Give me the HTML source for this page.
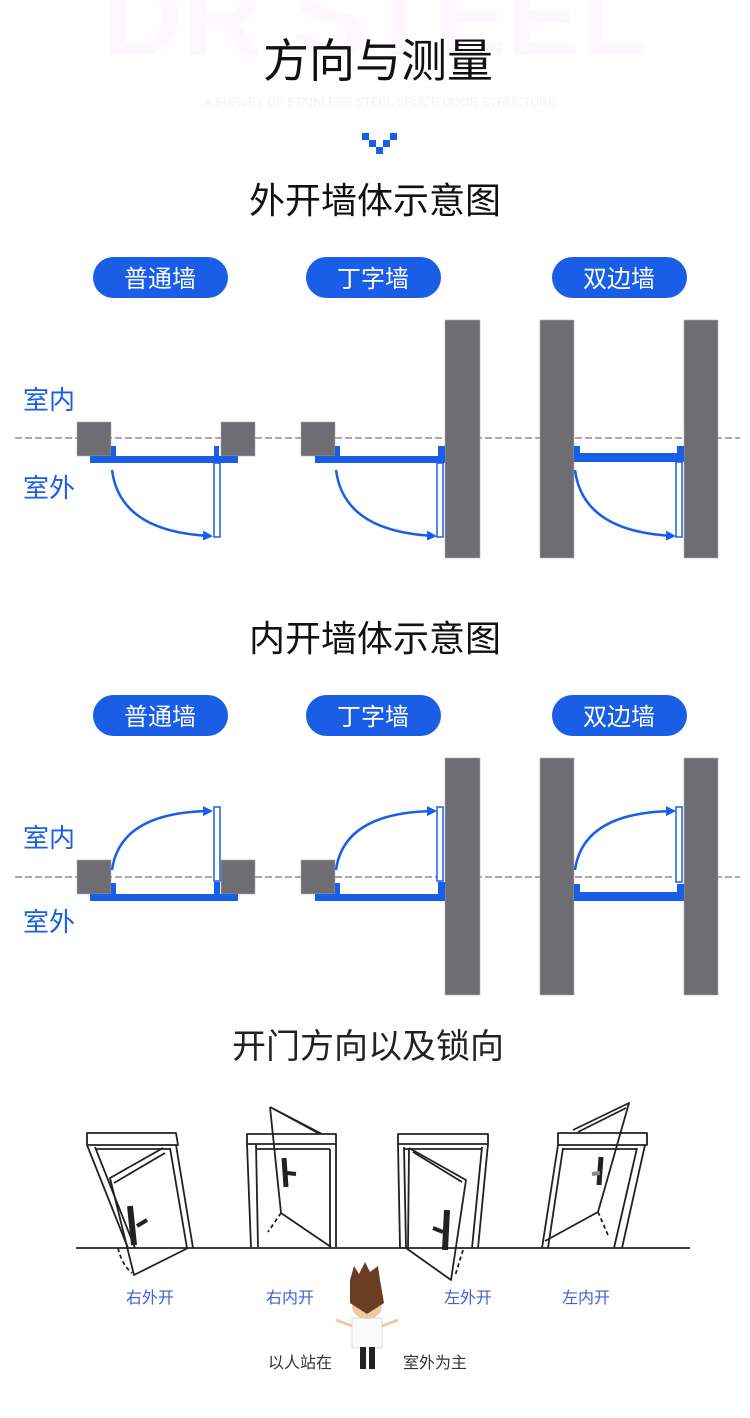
<!DOCTYPE html>
<html><head><meta charset="utf-8"><style>
html,body{margin:0;padding:0;background:#fff;}
svg{display:block}
text{font-family:"Liberation Sans","Noto Sans CJK SC",sans-serif;}
</style></head><body>
<svg width="750" height="1418" viewBox="0 0 750 1418" xmlns="http://www.w3.org/2000/svg">
<defs>
<marker id="ar" markerWidth="10" markerHeight="10" refX="8" refY="5" orient="auto" markerUnits="userSpaceOnUse"><path d="M0,0 L10,5 L0,10 Z" fill="#1a5ee8"/></marker>
</defs>
<rect width="750" height="1418" fill="#fff"/>
<text x="375" y="55" font-size="110" fill="#fcf8fd" text-anchor="middle" font-family="Liberation Serif" font-weight="bold">DR STEEL</text>
<text x="380" y="106" font-size="12" fill="#f2f2f2" text-anchor="middle" font-family="Liberation Serif">A SURVEY OF STAINLESS STEEL SPLICE DOOR STRUCTURE</text>
<text x="378" y="77" font-size="46" fill="#111" text-anchor="middle">方向与测量</text>
<g fill="#1a5ee8"><rect x="362" y="133" width="7" height="7"/><rect x="390" y="133" width="7" height="7"/><rect x="369" y="140" width="7" height="7"/><rect x="383" y="140" width="7" height="7"/><rect x="376" y="147" width="7" height="7"/></g>
<text x="375" y="213" font-size="36" fill="#111" text-anchor="middle">外开墙体示意图</text>

<g font-size="24" fill="#fff" text-anchor="middle">
<rect x="93" y="257" width="135" height="41" rx="20.5" fill="#1a5ee8"/><text x="160" y="287">普通墙</text>
<rect x="306" y="257" width="135" height="41" rx="20.5" fill="#1a5ee8"/><text x="373" y="287">丁字墙</text>
<rect x="552" y="257" width="135" height="41" rx="20.5" fill="#1a5ee8"/><text x="619" y="287">双边墙</text>
<rect x="93" y="695" width="135" height="41" rx="20.5" fill="#1a5ee8"/><text x="160" y="725">普通墙</text>
<rect x="306" y="695" width="135" height="41" rx="20.5" fill="#1a5ee8"/><text x="373" y="725">丁字墙</text>
<rect x="552" y="695" width="135" height="41" rx="20.5" fill="#1a5ee8"/><text x="619" y="725">双边墙</text>
</g>

<g font-size="26" fill="#1a5ee8">
<text x="23" y="409">室内</text><text x="23" y="497">室外</text>
<text x="23" y="847">室内</text><text x="23" y="931">室外</text>
</g>

<line x1="15" y1="438" x2="740" y2="438" stroke="#aaa" stroke-width="2" stroke-dasharray="7,3"/>
<g fill="#6e6d74" stroke="#aaa" stroke-width="0.6">
<rect x="77" y="422" width="34" height="34"/><rect x="221" y="422" width="34" height="34"/>
<rect x="301" y="422" width="34" height="34"/>
<rect x="445" y="320" width="35" height="238"/>
<rect x="540" y="320" width="34" height="238"/><rect x="684" y="320" width="34" height="238"/>
</g>
<g fill="#1a5ee8">
<rect x="90" y="456" width="148" height="7"/><rect x="111" y="446" width="5" height="10"/><rect x="214" y="446" width="5" height="10"/>
<rect x="315" y="456" width="130" height="7"/><rect x="335" y="446" width="5" height="10"/><rect x="438" y="446" width="7" height="10"/>
<rect x="574" y="453" width="110" height="9"/><rect x="574" y="446" width="6" height="8"/><rect x="677" y="446" width="7" height="8"/>
</g>
<g fill="#fff" stroke="#1a5ee8" stroke-width="1.5">
<rect x="214" y="463" width="6" height="74"/><rect x="437" y="463" width="6" height="74"/><rect x="676" y="462" width="6" height="75"/>
</g>
<g fill="none" stroke="#1a5ee8" stroke-width="2.5" marker-end="url(#ar)">
<path d="M112,470 Q120,532 211,536"/>
<path d="M336,470 Q344,532 435,536"/>
<path d="M575,470 Q583,532 674,536"/>
</g>

<text x="375" y="651" font-size="36" fill="#111" text-anchor="middle">内开墙体示意图</text>

<line x1="15" y1="877" x2="740" y2="877" stroke="#aaa" stroke-width="2" stroke-dasharray="7,3"/>
<g fill="#6e6d74" stroke="#aaa" stroke-width="0.6">
<rect x="77" y="860" width="34" height="34"/><rect x="221" y="860" width="34" height="34"/>
<rect x="301" y="860" width="34" height="34"/>
<rect x="445" y="758" width="35" height="237"/>
<rect x="540" y="758" width="34" height="237"/><rect x="684" y="758" width="34" height="237"/>
</g>
<g fill="#1a5ee8">
<rect x="90" y="894" width="148" height="7"/><rect x="111" y="883" width="5" height="11"/><rect x="214" y="882" width="6" height="12"/>
<rect x="315" y="894" width="130" height="7"/><rect x="335" y="883" width="5" height="11"/><rect x="438" y="882" width="7" height="12"/>
<rect x="574" y="892" width="110" height="9"/><rect x="574" y="884" width="6" height="8"/><rect x="677" y="884" width="7" height="8"/>
</g>
<g fill="#fff" stroke="#1a5ee8" stroke-width="1.5">
<rect x="214" y="807" width="6" height="74"/><rect x="437" y="807" width="6" height="74"/><rect x="676" y="807" width="6" height="75"/>
</g>
<g fill="none" stroke="#1a5ee8" stroke-width="2.5" marker-end="url(#ar)">
<path d="M112,870 Q120,812 211,811"/>
<path d="M336,870 Q344,812 435,811"/>
<path d="M575,870 Q583,812 674,811"/>
</g>

<text x="368" y="1058" font-size="34" fill="#222" text-anchor="middle">开门方向以及锁向</text>

<g fill="none" stroke="#222" stroke-width="1.8" stroke-linejoin="round">
<line x1="76" y1="1248" x2="690" y2="1248"/>
<!-- door 1 -->
<path d="M87,1133 L176,1133 L178,1145 L87,1145 Z"/>
<path d="M87,1145 L128,1248 M95,1147 L135,1248 M176,1145 L193,1248 M170,1148 L187,1248"/>
<path d="M95,1149 L170,1149"/>
<path d="M163,1148 L110,1178 L134,1275 L188,1248"/>
<path d="M165,1153 L114,1183"/>
<path d="M130,1206 L134,1245" stroke-width="6"/>
<path d="M137,1226 L147,1220" stroke-width="4"/>
<path d="M118,1248 Q122,1265 132,1273" stroke-dasharray="4,3"/>
<!-- door 2 -->
<path d="M247,1134 L336,1134 L336,1144 L247,1144 Z"/>
<path d="M247,1144 L251,1247 M256,1144 L258,1247 M336,1144 L336,1247 M330,1149 L330,1247"/>
<path d="M256,1149 L330,1149"/>
<path d="M270,1107 L318,1133 M270,1107 L274,1109 L322,1134"/>
<path d="M270,1107 L281,1213 L331,1247"/>
<path d="M281,1213 L268,1232" stroke-dasharray="4,3"/>
<path d="M284,1158 L286,1187" stroke-width="5"/>
<path d="M287,1173 L296,1174" stroke-width="4"/>
<!-- door 3 -->
<path d="M398,1134 L488,1134 L488,1144 L398,1144 Z"/>
<path d="M398,1144 L400,1248 M404,1147 L406,1248 M488,1144 L478,1248 M482,1147 L472,1248"/>
<path d="M404,1149 L482,1149"/>
<path d="M409,1148 L466,1180 L451,1280 L406,1248 M409,1148 L408,1248"/>
<path d="M413,1152 L462,1182"/>
<path d="M447,1210 L445,1250" stroke-width="6"/>
<path d="M433,1228 L443,1232" stroke-width="4"/>
<path d="M463,1250 L455,1276" stroke-dasharray="4,3"/>
<!-- door 4 -->
<path d="M558,1133 L647,1133 L647,1145 L558,1145 Z"/>
<path d="M558,1145 L542,1248 M563,1148 L548,1248 M645,1145 L622,1248 M637,1148 L614,1248"/>
<path d="M563,1149 L637,1149"/>
<path d="M573,1130 L629,1103 L598,1212 L545,1241"/>
<path d="M578,1132 L626,1108"/>
<path d="M598,1212 L608,1235" stroke-dasharray="4,3"/>
<path d="M601,1157 L599,1185" stroke-width="5"/>
<path d="M592,1174 L600,1173" stroke-width="4" stroke="#888"/>
</g>

<g font-size="16" fill="#3f5fd6" text-anchor="middle">
<text x="150" y="1303">右外开</text><text x="290" y="1303">右内开</text>
<text x="468" y="1303">左外开</text><text x="586" y="1303">左内开</text>
</g>
<g font-size="16" fill="#333" text-anchor="middle">
<text x="300" y="1368">以人站在</text><text x="435" y="1368">室外为主</text>
</g>

<g>
<path d="M352,1318 L382,1318 L382,1348 L352,1348 Z" fill="#fafafa" stroke="#ddd"/>
<path d="M336,1320 L352,1326 M398,1320 L382,1326" stroke="#f0c8a0" stroke-width="3"/>
<rect x="360" y="1347" width="6" height="22" fill="#222"/><rect x="369" y="1347" width="6" height="22" fill="#222"/>
<ellipse cx="367" cy="1306" rx="15" ry="13" fill="#f0c8a0"/>
<path d="M350,1280 L354,1266 L359,1274 L365,1262 L370,1272 L378,1266 L380,1280 L384,1303 L367,1314 L350,1303 Z" fill="#6b3e24"/>
</g>
</svg>
</body></html>
